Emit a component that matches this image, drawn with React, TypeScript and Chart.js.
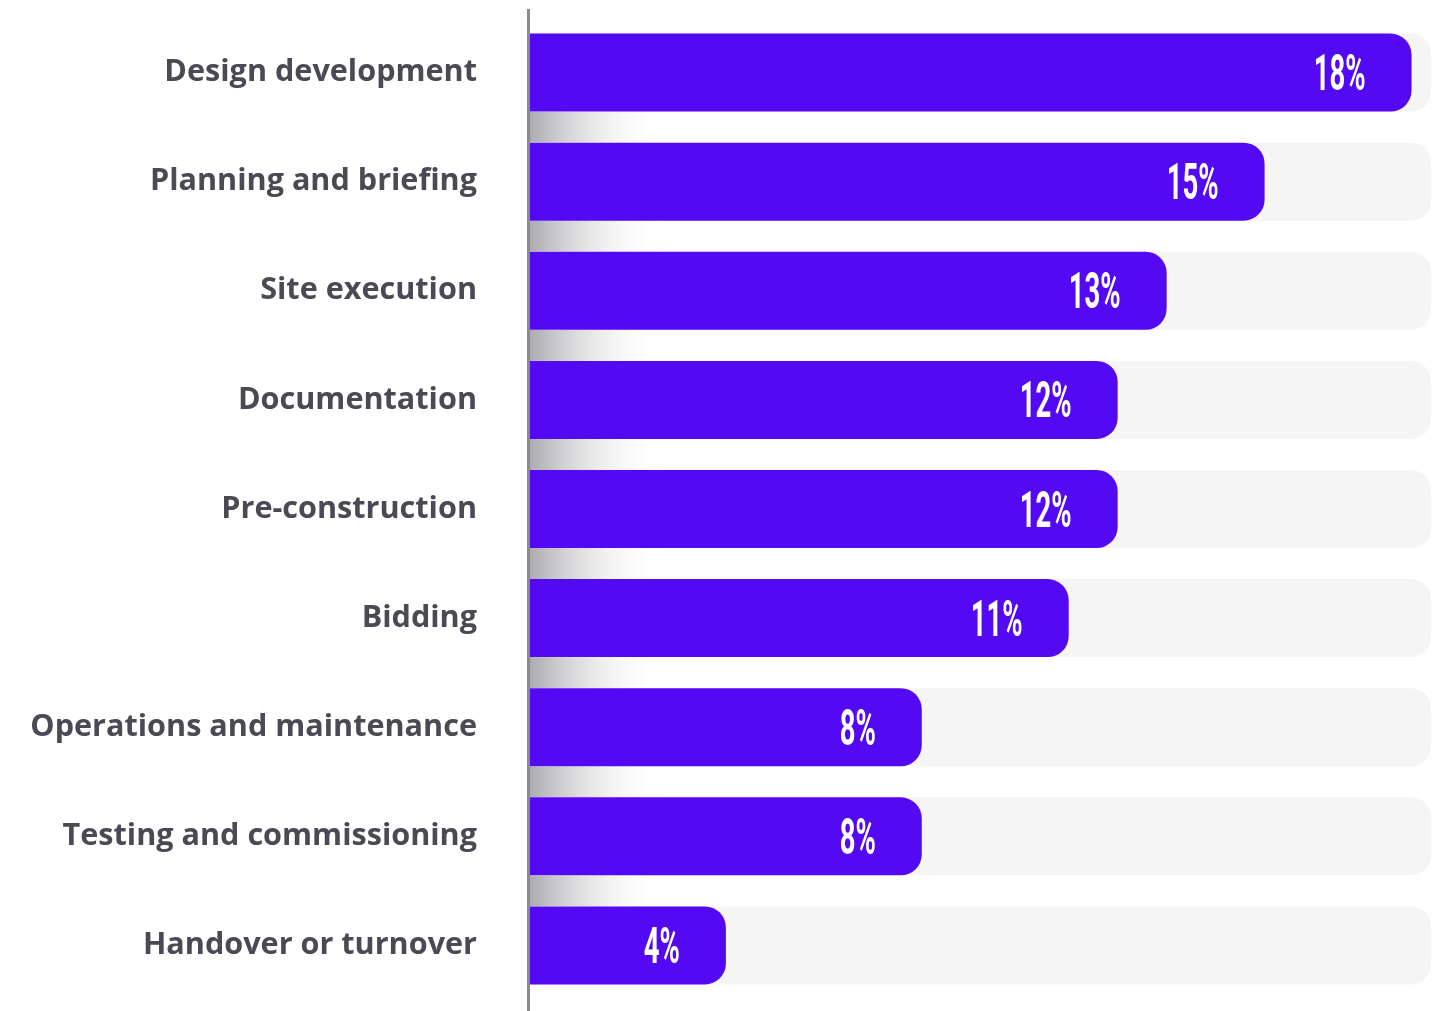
import React, { useEffect, useRef } from "react";
import { Chart, registerables } from "chart.js";

Chart.register(...registerables);

const categories = [
  "Design development",
  "Planning and briefing",
  "Site execution",
  "Documentation",
  "Pre-construction",
  "Bidding",
  "Operations and maintenance",
  "Testing and commissioning",
  "Handover or turnover",
];
const values = [18, 15, 13, 12, 12, 11, 8, 8, 4];
const trackValue = 18.4;
const axisMax = 18.5;

const PURPLE = "#5309F2";
const TRACK = "#f5f5f5";
const LABEL_COLOR = "#4a4a55";

const decorPlugin = {
  id: "decor",
  beforeDatasetsDraw(chart: any) {
    const ctx = chart.ctx;
    const meta = chart.getDatasetMeta(0);
    const left = chart.chartArea.left;
    for (let i = 0; i < meta.data.length - 1; i++) {
      const a = meta.data[i] as any;
      const b = meta.data[i + 1] as any;
      const y0 = a.y + a.height / 2;
      const y1 = b.y - b.height / 2;
      const g = ctx.createLinearGradient(left, 0, left + 132, 0);
      g.addColorStop(0, "rgba(172,172,176,1)");
      g.addColorStop(1, "rgba(255,255,255,0)");
      ctx.save();
      ctx.fillStyle = g;
      ctx.fillRect(left, y0, 132, y1 - y0);
      ctx.restore();
    }
  },
  afterDraw(chart: any) {
    const ctx = chart.ctx;
    const left = chart.chartArea.left;
    ctx.save();
    ctx.fillStyle = "#8a8a90";
    ctx.fillRect(left - 3, 9, 3, chart.height - 9);
    ctx.restore();

    const meta = chart.getDatasetMeta(0);
    meta.data.forEach((bar: any, i: number) => {
      const label = values[i] + "%";
      ctx.save();
      ctx.translate(bar.x - 46, bar.y + 17.5);
      ctx.scale(0.55, 1);
      ctx.font = "bold 50px Roboto";
      ctx.fillStyle = "#ffffff";
      ctx.textAlign = "right";
      ctx.textBaseline = "alphabetic";
      ctx.fillText(label, 0, 0);
      ctx.restore();
    });
  },
};

export default function App() {
  const ref = useRef<HTMLCanvasElement | null>(null);
  useEffect(() => {
    if (!ref.current) return;
    const chart = new Chart(ref.current, {
      type: "bar",
      data: {
        labels: categories,
        datasets: [
          {
            data: values,
            backgroundColor: PURPLE,
            borderWidth: 0,
            borderRadius: { topLeft: 0, bottomLeft: 0, topRight: 21, bottomRight: 21 },
            borderSkipped: false,
            barPercentage: 0.715,
            categoryPercentage: 1,
            grouped: false,
          } as any,
          {
            data: categories.map(() => trackValue),
            backgroundColor: TRACK,
            borderWidth: 0,
            borderRadius: { topLeft: 0, bottomLeft: 0, topRight: 20, bottomRight: 20 },
            borderSkipped: false,
            barPercentage: 0.715,
            categoryPercentage: 1,
            grouped: false,
          } as any,
        ],
      },
      options: {
        indexAxis: "y",
        responsive: false,
        animation: false,
        devicePixelRatio: 1,
        layout: { padding: { top: 18, bottom: 11, left: 0, right: 0 } },
        plugins: { legend: { display: false }, tooltip: { enabled: false } },
        scales: {
          x: { display: false, min: 0, max: axisMax },
          y: {
            grid: { display: false, drawTicks: false },
            border: { display: false },
            ticks: {
              padding: 53,
              color: LABEL_COLOR,
              font: { family: "'Open Sans'", weight: "bold", size: 30.6 },
            },
            afterFit: (scale: any) => {
              scale.width = 530;
              scale.paddingTop = 0;
              scale.paddingBottom = 0;
            },
          },
        },
      },
      plugins: [decorPlugin],
    });
    return () => chart.destroy();
  }, []);
  return (
    <div style={{ position: "fixed", left: 0, top: 0, width: 1436, height: 1011, background: "#fff" }}>
      <canvas ref={ref} width={1436} height={1011} style={{ display: "block" }} />
    </div>
  );
}
